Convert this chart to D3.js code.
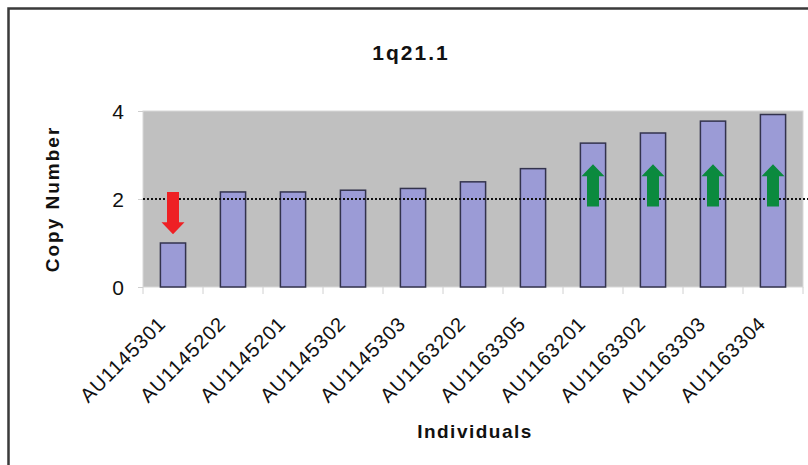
<!DOCTYPE html>
<meta charset="utf-8">
<head>
<style>
body { margin: 0; background: #fff; }
text { font-family: Arial, "Liberation Sans", sans-serif; fill: #111; }
.bar { fill: #9b9bd6; stroke: #33334d; stroke-width: 1.5px; }
.ref { stroke: #111; stroke-width: 2px; stroke-dasharray: 2,2; }
</style>
</head>
<body>
<svg width="808" height="465"></svg>
<script src="https://cdn.jsdelivr.net/npm/d3@7"></script>
<script>
var individuals = ["AU1145301", "AU1145202", "AU1145201", "AU1145302", "AU1145303",
                   "AU1163202", "AU1163305", "AU1163201", "AU1163302", "AU1163303", "AU1163304"];
var copyNumber = [1.0, 2.16, 2.16, 2.2, 2.24, 2.39, 2.69, 3.27, 3.5, 3.77, 3.92];
var yTicks = [0, 2, 4];
var normalLevel = 2;
// arrows: which individuals, direction, from / to in copy number units
var losses = [{name: "AU1145301", from: 2.16, to: 1.2}];
var gains = ["AU1163201", "AU1163302", "AU1163303", "AU1163304"].map(function(n) {
  return {name: n, from: 1.83, to: 2.79};
});

var svg = d3.select("svg"),
    margin = {top: 111, right: 5, bottom: 178, left: 143},
    width = +svg.attr("width") - margin.left - margin.right,
    height = +svg.attr("height") - margin.top - margin.bottom;

// outer frame (left and top only visible)
svg.append("path")
    .attr("d", "M8.5,465V8.5H808")
    .attr("fill", "none")
    .attr("stroke", "#3a3a3a")
    .attr("stroke-width", 2.5);

var g = svg.append("g").attr("transform", "translate(" + margin.left + "," + margin.top + ")");

var x = d3.scaleBand().domain(individuals).range([0, width]).paddingInner(0.58).paddingOuter(0.29);
var y = d3.scaleLinear().domain([0, 4]).range([height, 0]);

g.append("rect")
    .attr("width", width)
    .attr("height", height)
    .attr("fill", "#c0c0c0")
    .attr("stroke", "#d8d8d8");

// y axis
var yAxis = g.append("g").call(d3.axisLeft(y).tickValues(yTicks).tickFormat(d3.format("d")).tickSize(5).tickPadding(14));
yAxis.select(".domain").remove();
yAxis.selectAll(".tick line").attr("stroke", "#cfcfcf");
yAxis.selectAll(".tick text")
    .style("font-size", "21px").attr("dy", "0.35em");

// x axis: ticks between categories
var step = x.step();
var xAxis = g.append("g").attr("transform", "translate(0," + height + ")");
xAxis.selectAll("line")
    .data(d3.range(individuals.length + 1))
  .enter().append("line")
    .attr("x1", function(i) { return i * step; })
    .attr("x2", function(i) { return i * step; })
    .attr("y1", 0).attr("y2", 7)
    .attr("stroke", "#d0d0d0");
xAxis.selectAll("text")
    .data(individuals)
  .enter().append("text")
    .attr("transform", function(d) {
      return "translate(" + (x(d) + x.bandwidth() / 2 - 6) + ",38) rotate(-45)";
    })
    .attr("text-anchor", "end")
    .style("font-size", "20px")
    .style("letter-spacing", "0.8px")
    .text(function(d) { return d; });

g.selectAll(".bar")
    .data(individuals)
  .enter().append("rect")
    .attr("class", "bar")
    .attr("x", function(d) { return x(d); })
    .attr("y", function(d, i) { return y(copyNumber[i]); })
    .attr("width", x.bandwidth())
    .attr("height", function(d, i) { return height - y(copyNumber[i]); });

g.append("line")
    .attr("class", "ref")
    .attr("x1", 0).attr("x2", width + margin.right)
    .attr("y1", y(normalLevel)).attr("y2", y(normalLevel));

function arrow(d) {
  var cx = x(d.name) + x.bandwidth() / 2,
      y0 = y(d.from), y1 = y(d.to),
      dir = y1 > y0 ? 1 : -1,
      sw = 6, hw = 11.5, hl = 12,
      yh = y1 - dir * hl;
  return "M" + (cx - sw) + "," + y0 + "L" + (cx - sw) + "," + yh +
         "L" + (cx - hw) + "," + yh + "L" + cx + "," + y1 +
         "L" + (cx + hw) + "," + yh + "L" + (cx + sw) + "," + yh +
         "L" + (cx + sw) + "," + y0 + "Z";
}
g.selectAll(".loss").data(losses).enter().append("path")
    .attr("class", "loss").attr("d", arrow).attr("fill", "#ee2024");
g.selectAll(".gain").data(gains).enter().append("path")
    .attr("class", "gain").attr("d", arrow).attr("fill", "#0b8a3e");

svg.append("text")
    .attr("x", 411).attr("y", 60)
    .attr("text-anchor", "middle")
    .style("font-size", "21px").style("font-weight", "bold").style("letter-spacing", "2px")
    .text("1q21.1");

svg.append("text")
    .attr("x", margin.left + width / 2 + 2).attr("y", 438)
    .attr("text-anchor", "middle")
    .style("font-size", "19px").style("font-weight", "bold").style("letter-spacing", "1.5px")
    .text("Individuals");

svg.append("text")
    .attr("transform", "translate(59," + (margin.top + height / 2) + ") rotate(-90)")
    .attr("text-anchor", "middle")
    .style("font-size", "19px").style("font-weight", "bold").style("letter-spacing", "2px")
    .text("Copy Number");
</script>
</body>
</html>
